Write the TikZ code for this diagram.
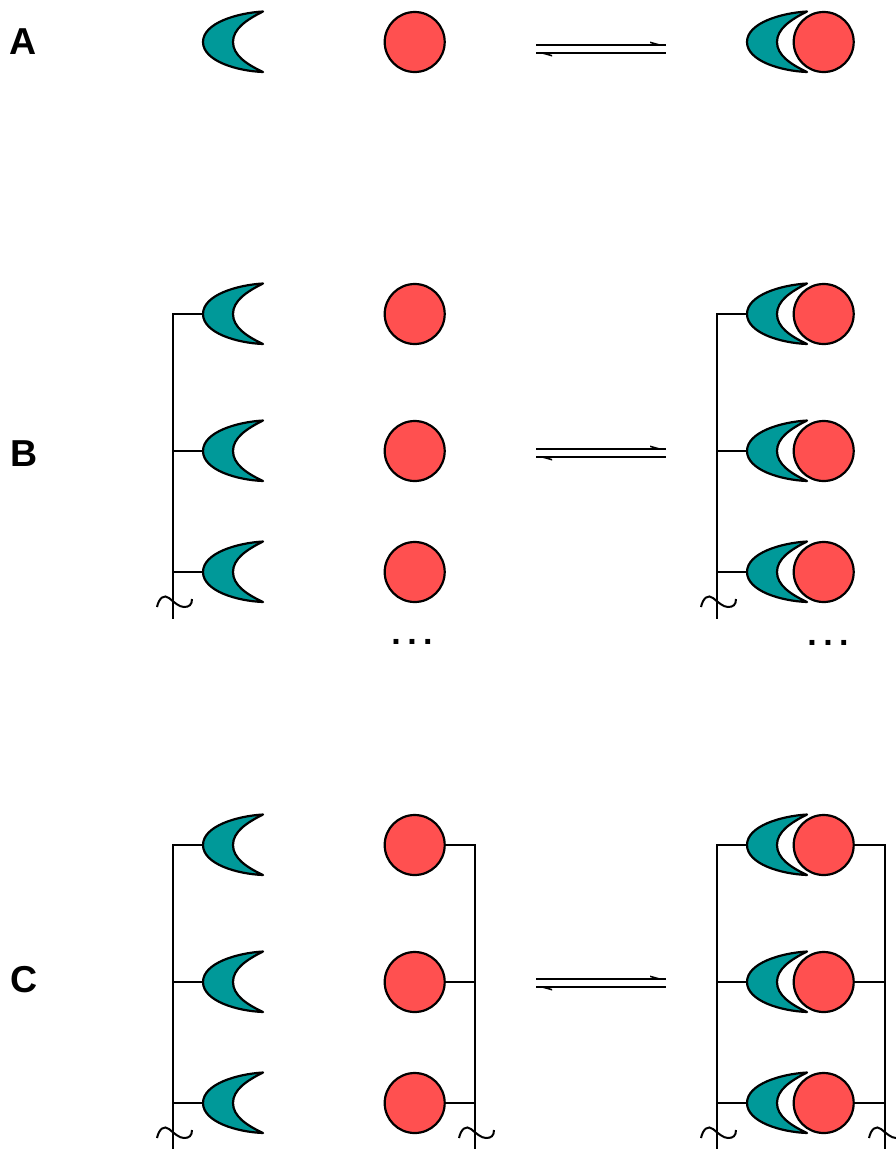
\documentclass[tikz,border=0pt]{standalone}
\usepackage{fontspec}
\setmainfont{Liberation Sans}
\definecolor{teal}{HTML}{009999}
\definecolor{coral}{HTML}{FF5050}
\newcommand{\dotgap}{\spaceskip=6.5pt plus 0pt minus 0pt \xspaceskip=6.5pt plus 0pt minus 0pt\relax}
\tikzset{
  x=1pt,y=-1pt,
  every path/.style={line width=2.2pt},
  ball/.style={circle,draw=black,fill=coral,line width=2.2pt,minimum size=60pt,inner sep=0pt},
  wire/.style={draw=black,line width=2.2pt},
  panel/.style={font=\bfseries\fontsize{37.5}{38}\selectfont,inner sep=0pt},
  dotsl/.style={font=\bfseries\fontsize{34}{34}\selectfont,inner sep=0pt},
}
% \crescent{name}{x of left tip}{y of centre}
\newcommand{\crescent}[3]{%
  \coordinate (#1) at (#2,#3);
  \draw[fill=teal,line join=round,line width=2.2pt]
    (#2+60,#3-30.5) .. controls (#2+34,#3-29) and (#2,#3-19) .. (#2,#3)
    .. controls (#2,#3+19) and (#2+34,#3+29) .. (#2+60,#3+30)
    .. controls (#2+43,#3+22) and (#2+30,#3+13) .. (#2+30,#3)
    .. controls (#2+30,#3-13) and (#2+43,#3-22) .. (#2+60,#3-30.5) -- cycle;}
\newcommand{\wave}[2]{%
  \draw[line width=2pt] (#1-16,#2+6) .. controls (#1-14,#2-3) and (#1-9,#2-7) .. (#1-4,#2-3)
    .. controls (#1+1,#2+1) and (#1+6,#2+6) .. (#1+11,#2+6)
    .. controls (#1+16,#2+6) and (#1+19,#2+4) .. (#1+19,#2-2);}
\newcommand{\eqarrow}[2]{%
  \coordinate (#1l1) at (536,#2);
  \coordinate (#1r1) at (666,#2);
  \coordinate (#1l2) at (536,#2+8);
  \coordinate (#1r2) at (666,#2+8);
  \draw[line width=1.6pt] (#1l1) -- (#1r1);
  \draw[line width=1.6pt] (#1l2) -- (#1r2);
  \fill (666,#2+1) -- (650,#2-3.5) -- (650,#2-2) -- (657,#2+.5) -- cycle;
  \fill (536,#2+7) -- (552,#2+11.5) -- (552,#2+10) -- (545,#2+7.5) -- cycle;}
\begin{document}
\begin{tikzpicture}
\useasboundingbox (0,0) rectangle (895,1149);
\node[panel] (labA) at (23.5,42) {A};
\node[panel] (labB) at (24.5,454) {B};
\node[panel] (labC) at (24,980) {C};
% Row A
\crescent{a1}{203}{42}
\node[ball] (a2) at (414.7,42) {};
\eqarrow{ea}{45}
\crescent{a3}{747}{42}
\node[ball] (a4) at (823.7,42) {};
% Rows B
\foreach \n/\y in {1/314,2/451,3/572}{
  \crescent{bl\n}{203}{\y}
  \node[ball] (bc\n) at (414.7,\y) {};
  \crescent{br\n}{747}{\y}
  \node[ball] (bd\n) at (823.7,\y) {};
  \coordinate (bpl\n) at (173,\y);
  \coordinate (bpr\n) at (717,\y);
  \draw[wire] (bpl\n) -- (bl\n);
  \draw[wire] (bpr\n) -- (br\n);
}
\coordinate (bel) at (173,618);
\coordinate (ber) at (717,618);
\draw[wire,line cap=rect] (bpl1) -- (bel);
\draw[wire,line cap=rect] (bpr1) -- (ber);
\wave{173}{601}
\wave{717}{601}
\eqarrow{eb}{449}
\node[dotsl,anchor=base] (bdotsl) at (412,644.5) {\dotgap . . .};
\node[dotsl,anchor=base] (bdotsr) at (828,645.5) {\dotgap . . .};
% Rows C
\foreach \n/\y in {1/845,2/982,3/1103}{
  \crescent{cl\n}{203}{\y}
  \node[ball] (cc\n) at (414.7,\y) {};
  \crescent{cr\n}{747}{\y}
  \node[ball] (cd\n) at (823.7,\y) {};
  \coordinate (cpl\n) at (173,\y);
  \coordinate (cpm\n) at (475,\y);
  \coordinate (cpr\n) at (717,\y);
  \coordinate (cps\n) at (885,\y);
  \draw[wire] (cpl\n) -- (cl\n);
  \draw[wire] (cc\n) -- (cpm\n);
  \draw[wire] (cpr\n) -- (cr\n);
  \draw[wire] (cd\n) -- (cps\n);
}
\coordinate (cel) at (173,1148);
\coordinate (cem) at (475,1148);
\coordinate (cer) at (717,1148);
\coordinate (ces) at (885,1148);
\draw[wire,line cap=rect] (cpl1) -- (cel);
\draw[wire,line cap=rect] (cpm1) -- (cem);
\draw[wire,line cap=rect] (cpr1) -- (cer);
\draw[wire,line cap=rect] (cps1) -- (ces);
\wave{173}{1132}
\wave{475}{1132}
\wave{717}{1132}
\wave{885}{1132}
\eqarrow{ec}{979}
\end{tikzpicture}
\end{document}
